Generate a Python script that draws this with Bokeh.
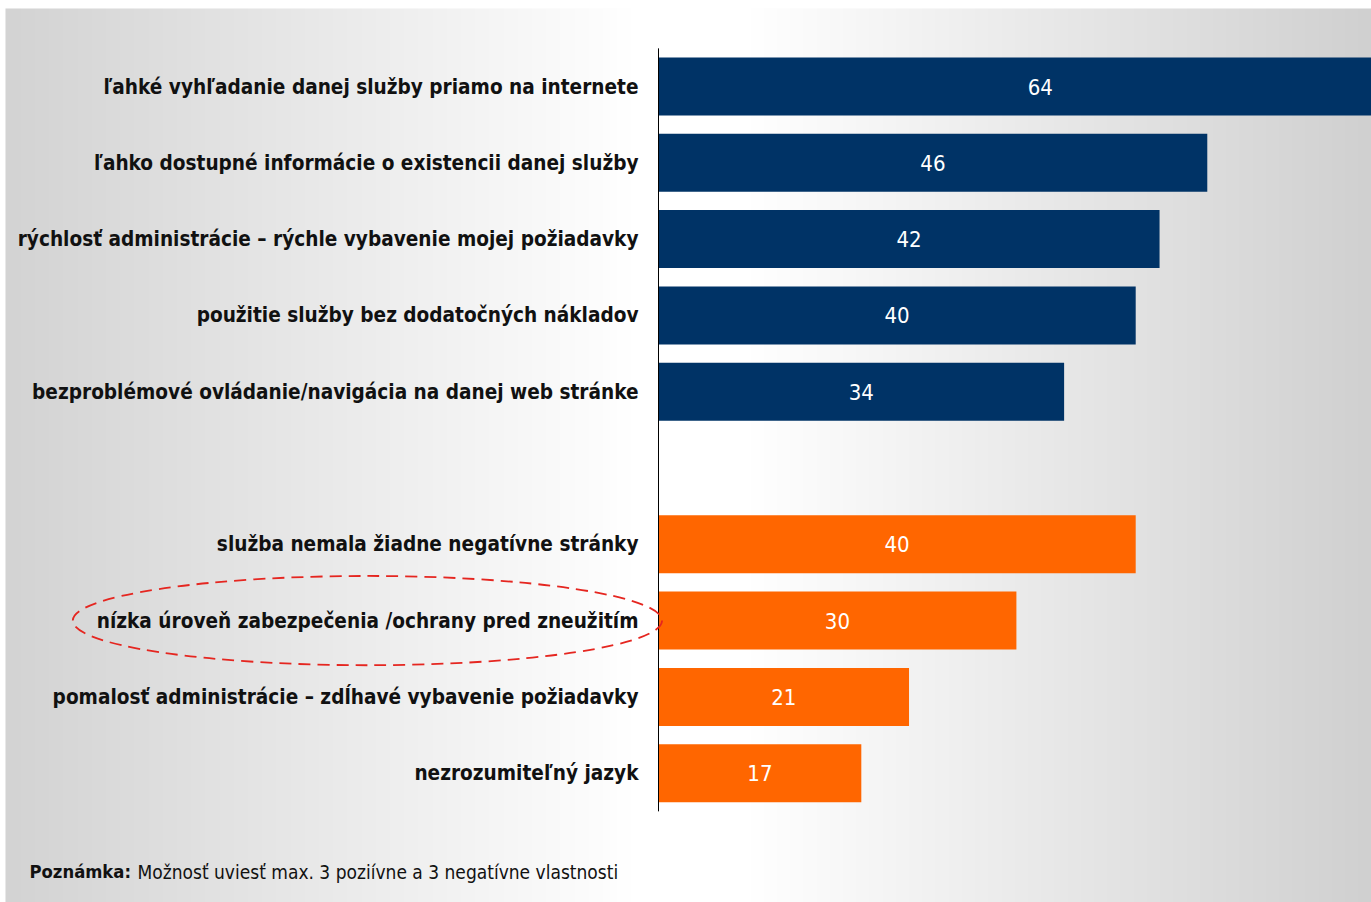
import numpy as np
from bokeh.plotting import figure
from bokeh.models import Range1d, Label, ColumnDataSource
from bokeh.core.properties import value
from bokeh.embed import file_html
from bokeh.resources import INLINE

# ---- data ----
positive_labels = [
    "ľahké vyhľadanie danej služby priamo na internete",
    "ľahko dostupné informácie o existencii danej služby",
    "rýchlosť administrácie – rýchle vybavenie mojej požiadavky",
    "použitie služby bez dodatočných nákladov",
    "bezproblémové ovládanie/navigácia na danej web stránke",
]
positive_values = [64, 46, 42, 40, 34]

negative_labels = [
    "služba nemala žiadne negatívne stránky",
    "nízka úroveň zabezpečenia /ochrany pred zneužitím",
    "pomalosť administrácie – zdĺhavé vybavenie požiadavky",
    "nezrozumiteľný jazyk",
]
negative_values = [40, 30, 21, 17]

highlighted = "nízka úroveň zabezpečenia /ochrany pred zneužitím"
note_bold = "Poznámka:"
note_text = "Možnosť uviesť max. 3 poziívne a 3 negatívne vlastnosti"

BLUE = "#003366"
ORANGE = "#ff6600"
FONT = "DejaVu Sans Condensed, Liberation Sans"

# ---- layout ----
W, H = 1371, 902
px_per_unit = 11.93
zero_px = 658
row_px = 76.3
first_row_px = 86

x0 = -zero_px / px_per_unit
x1 = (W - zero_px) / px_per_unit
ytop = -first_row_px / row_px
ybot = (H - first_row_px) / row_px

pos_y = list(range(len(positive_labels)))
neg_y = [len(positive_labels) + 1 + i for i in range(len(negative_labels))]

p = figure(width=W, height=H, output_backend="svg", toolbar_location=None,
           x_range=Range1d(x0, x1), y_range=Range1d(ybot, ytop),
           min_border=0, min_border_left=0, min_border_right=0,
           min_border_top=0, min_border_bottom=0)
p.axis.visible = False
p.grid.visible = False
p.outline_line_color = None
p.border_fill_color = "white"
p.background_fill_color = "white"

# gradient background (gray - white - gray), leaving a thin white margin top/left
left_px, top_px = 5, 8
n = W - left_px
xs = np.arange(n) + left_px
center = 690.0
g = np.where(xs < center,
             211 + (255 - 211) * np.clip((xs - left_px) / (center - 60 - left_px), 0, 1),
             255 - (255 - 208) * np.clip((xs - (center + 60)) / (W - (center + 60)), 0, 1))
g = g.astype(np.uint32)
img = np.empty((1, n), dtype=np.uint32)
view = img.view(dtype=np.uint8).reshape((1, n, 4))
view[..., 0] = g
view[..., 1] = g
view[..., 2] = g
view[..., 3] = 255
gx0 = x0 + left_px / px_per_unit
gy0 = ytop + top_px / row_px
p.image_rgba(image=[img], x=gx0, y=gy0, dw=x1 - gx0, dh=ybot - gy0)

all_labels = positive_labels + negative_labels
all_values = positive_values + negative_values
all_y = pos_y + neg_y
all_colors = [BLUE] * len(positive_values) + [ORANGE] * len(negative_values)

src = ColumnDataSource(dict(
    y=all_y, v=all_values, c=all_colors, lab=all_labels,
    mid=[v / 2 for v in all_values], vt=[str(v) for v in all_values]))

p.hbar(y="y", left=0, right="v", height=0.76, fill_color="c", line_color=None, source=src)

# axis line
p.segment(x0=[0], y0=[-0.5], x1=[0], y1=[max(all_y) + 0.5], line_color="black", line_width=1)

# value labels
p.text(x="mid", y="y", text="vt", source=src, text_color="white",
       text_font=value(FONT), text_font_size="22px",
       text_align="center", text_baseline="middle")

# category labels
p.text(x=0, y="y", text="lab", source=src, text_color="#111111",
       text_font=value(FONT), text_font_size="20.6px", text_font_style="bold",
       text_align="right", text_baseline="middle", x_offset=-20)

# highlight ellipse
hi = all_y[all_labels.index(highlighted)]
p.ellipse(x=[-24.4], y=[hi], width=49.4, height=1.17, fill_color=None,
          line_color="#e52620", line_width=1.8, line_dash="12 7")

# note
p.add_layout(Label(x=29, y=31, x_units="screen", y_units="screen", text=note_bold,
                   text_font=FONT, text_font_size="18.3px", text_font_style="bold",
                   text_baseline="middle", text_color="#111111"))
p.add_layout(Label(x=137, y=31, x_units="screen", y_units="screen", text=note_text,
                   text_font=FONT, text_font_size="19px",
                   text_baseline="middle", text_color="#111111"))

open("out.html", "w").write(file_html(p, INLINE))
